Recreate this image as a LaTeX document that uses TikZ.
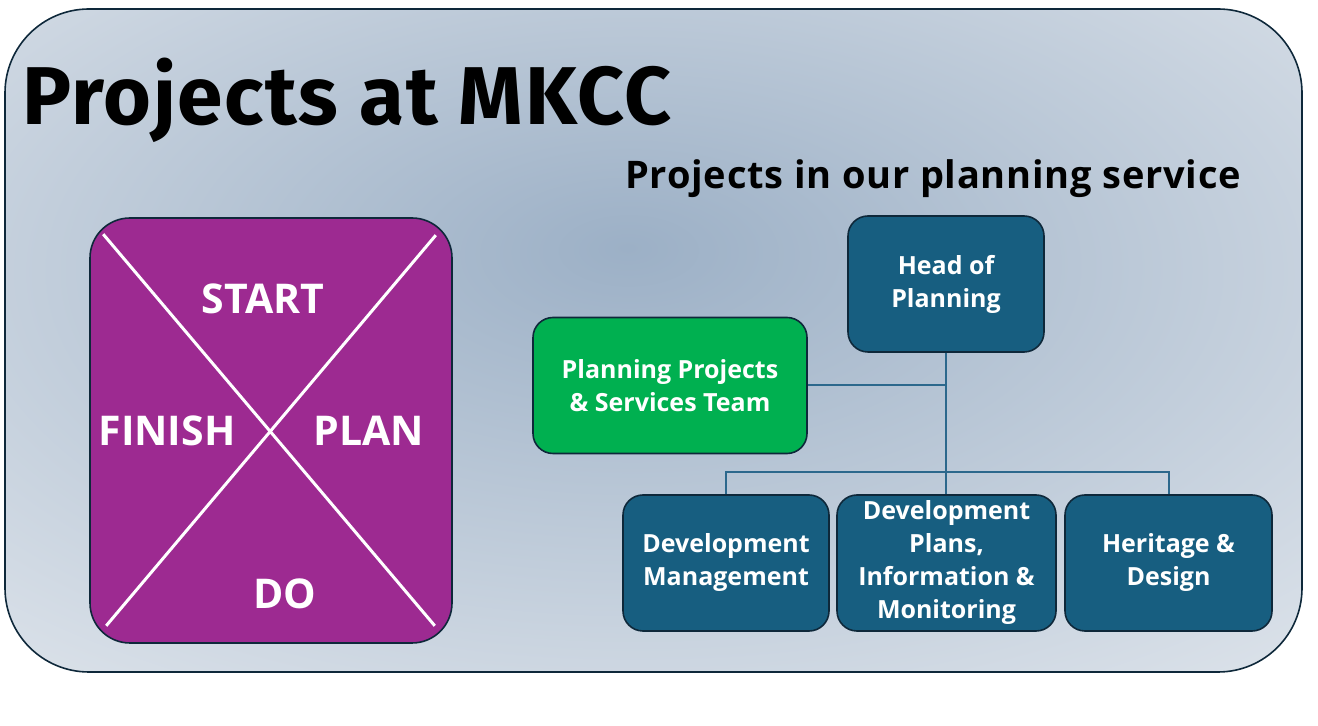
\documentclass[tikz,border=0pt]{standalone}
\usepackage{fontspec}
\setmainfont{Open Sans}
\newfontfamily\titlefont[LetterSpace=2]{Fira Sans}
\newfontfamily\subfont[LetterSpace=2]{Open Sans}
\usetikzlibrary{positioning, calc}

\definecolor{bgin}{RGB}{156,176,198}
\definecolor{bgout}{RGB}{222,228,235}
\definecolor{navy}{RGB}{14,40,58}
\definecolor{teamblue}{RGB}{23,94,128}
\definecolor{teamgreen}{RGB}{0,176,80}
\definecolor{cyclepurple}{RGB}{157,42,145}
\definecolor{linkblue}{RGB}{44,104,140}

\pgfdeclareradialshading{bgshade}{\pgfpoint{-1bp}{7bp}}{color(0bp)=(bgin); color(40bp)=(bgout); color(90bp)=(bgout)}

\begin{document}
\begin{tikzpicture}[
    x=0.5pt, y=-0.5pt,
    team/.style={draw=navy, line width=0.8pt, rounded corners=10pt, fill=teamblue, text=white, align=center, font=\bfseries\fontsize{12.5}{16.5}\selectfont, minimum height=68pt, inner sep=1pt},
    label/.style={text=white, font=\bfseries\fontsize{20.5}{22}\selectfont},
    link/.style={draw=linkblue, line width=1pt}
]
\useasboundingbox (0,0) rectangle (1318,726);

% Background panel
\path[shading=bgshade, draw=navy, line width=0.8pt, rounded corners=42pt] (5,9) rectangle (1302,672);

% Titles
\node[anchor=base west, inner sep=0pt, font=\titlefont\bfseries\fontsize{41}{44}\selectfont] (title) at (22,125) {Projects at MKCC};
\node[anchor=base west, inner sep=0pt, font=\subfont\bfseries\fontsize{19}{22}\selectfont] (subtitle) at (625,189) {Projects in our planning service};

% Project cycle
\node[draw=navy, line width=0.8pt, rounded corners=20pt, fill=cyclepurple, minimum width=181pt, minimum height=212.5pt] (cycle) at (271,430.5) {};
\draw[white, line width=1.5pt] ($(cycle.north west)+(14,17)$) -- ($(cycle.south east)+(-18,-18)$);
\draw[white, line width=1.5pt] ($(cycle.north east)+(-17,18)$) -- ($(cycle.south west)+(17,-18)$);
\node[label] (start) at (263,299) {START};
\node[label] (finish) at (167,431) {FINISH};
\node[label] (plan) at (369,431) {PLAN};
\node[label] (do) at (285,594) {DO};

% Row 1
\node[team, minimum width=98pt] (head) at (946,284) {Head of\\Planning};
\node[team, fill=teamgreen, minimum width=137pt] (ppst) at (670,385.5) {Planning Projects\\\& Services Team};

% Row 2
\node[team, minimum width=103pt] (devman) at (726,563) {Development\\Management};
\node[team, minimum width=109.5pt] (devplans) at (946.5,563) {Development\\Plans,\\Information \&\\Monitoring};
\node[team, minimum width=103.5pt] (heritage) at (1168.5,563) {Heritage \&\\Design};

% Connectors
\draw[link] (head.south) -- (head.south |- devplans.north);
\draw[link] (ppst.east) -- (ppst.east -| head.south);
\draw[link] (devman.north) -- ++(0,-22) -| (heritage.north);

\end{tikzpicture}
\end{document}
